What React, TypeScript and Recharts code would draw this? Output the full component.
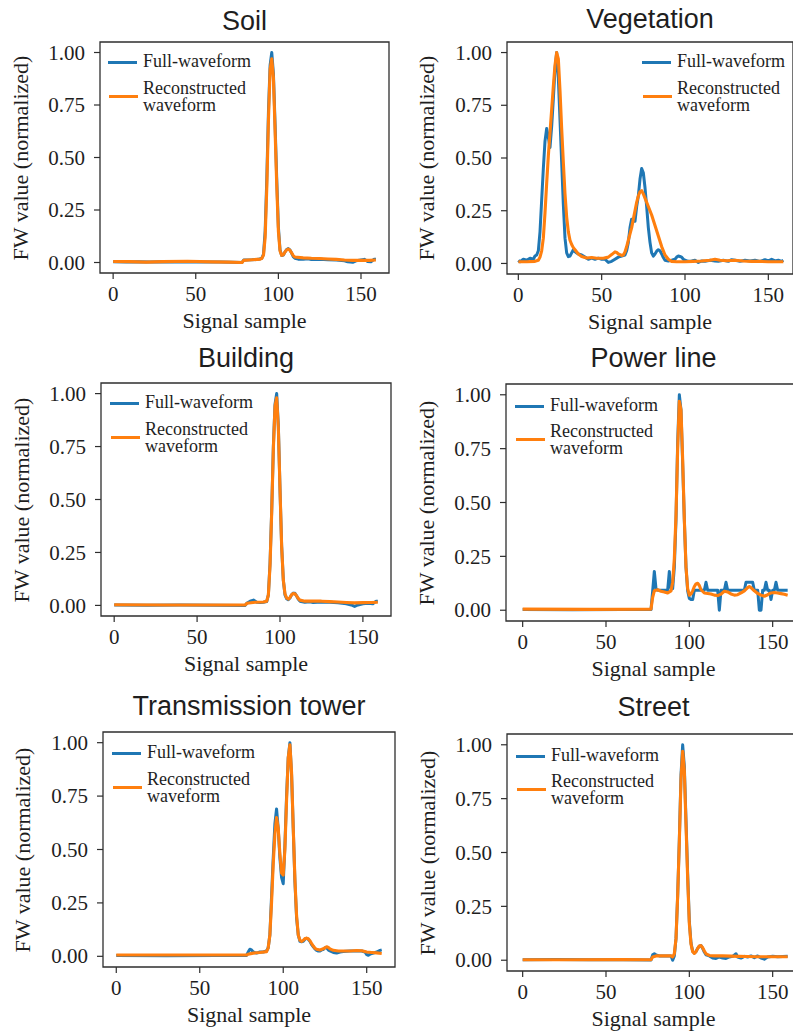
import { LineChart, Line, XAxis, YAxis, ReferenceArea } from 'recharts';

type Pt = [number, number];

// [signal sample, normalized FW value]
const soilFull: Pt[] = [
  [0, 0.003], [8, 0.002], [15, 0.004], [22, 0.002], [30, 0.003], [38, 0.002], [46, 0.004], [55, 0.002],
  [65, 0.002], [72, 0.001], [78, 0.0], [79, 0.012], [84, 0.013], [88, 0.015], [90, 0.02], [91, 0.04],
  [92, 0.15], [93, 0.4], [94, 0.72], [95, 0.94], [96, 1.0], [97, 0.9], [98, 0.66], [99, 0.4], [100, 0.17],
  [101, 0.06], [102, 0.033], [103, 0.035], [104, 0.05], [105, 0.062], [106, 0.066], [107, 0.06], [108, 0.045],
  [109, 0.028], [110, 0.02], [112, 0.016], [115, 0.015], [118, 0.018], [120, 0.014], [125, 0.016], [130, 0.013],
  [135, 0.012], [140, 0.008], [142, 0.003], [145, 0.001], [147, 0.008], [150, 0.012], [152, 0.015], [154, 0.005],
  [156, 0.003], [158, 0.016], [159, 0.015],
];
const soilRecon: Pt[] = [
  [0, 0.005], [10, 0.004], [20, 0.002], [30, 0.004], [45, 0.006], [60, 0.003], [70, 0.002], [78, 0.0],
  [79, 0.01], [84, 0.013], [89, 0.016], [90, 0.02], [91, 0.035], [92, 0.12], [93, 0.36], [94, 0.68], [95, 0.92],
  [96, 0.97], [97, 0.88], [98, 0.63], [99, 0.37], [100, 0.15], [101, 0.055], [102, 0.034], [103, 0.037],
  [104, 0.05], [105, 0.06], [106, 0.064], [107, 0.058], [108, 0.046], [109, 0.033], [110, 0.026], [115, 0.022],
  [120, 0.02], [125, 0.019], [130, 0.017], [135, 0.015], [140, 0.012], [145, 0.01], [150, 0.01], [155, 0.01],
  [159, 0.012],
];

const vegFull: Pt[] = [
  [0, 0.015], [1, 0.008], [3, 0.02], [5, 0.015], [7, 0.025], [9, 0.02], [10, 0.035], [11, 0.04], [12, 0.06],
  [13, 0.15], [14, 0.3], [15, 0.45], [16, 0.58], [17, 0.64], [18, 0.6], [19, 0.55], [20, 0.65], [21, 0.78],
  [22, 0.92], [23, 1.0], [24, 0.88], [25, 0.68], [26, 0.48], [27, 0.28], [28, 0.12], [29, 0.05], [30, 0.032],
  [31, 0.035], [32, 0.05], [33, 0.065], [34, 0.055], [35, 0.05], [36, 0.045], [38, 0.04], [40, 0.03], [42, 0.02],
  [44, 0.025], [46, 0.02], [48, 0.025], [50, 0.02], [52, 0.02], [54, 0.005], [56, 0.01], [58, 0.02], [60, 0.03],
  [62, 0.035], [64, 0.04], [65, 0.06], [66, 0.1], [67, 0.17], [68, 0.21], [69, 0.2], [70, 0.2], [71, 0.27],
  [72, 0.32], [73, 0.4], [74, 0.45], [75, 0.43], [76, 0.36], [77, 0.27], [78, 0.17], [79, 0.1], [80, 0.05],
  [81, 0.035], [82, 0.045], [83, 0.058], [84, 0.065], [85, 0.06], [86, 0.045], [87, 0.028], [88, 0.015],
  [90, 0.012], [92, 0.015], [94, 0.02], [95, 0.03], [96, 0.035], [97, 0.033], [98, 0.03], [99, 0.02], [100, 0.015],
  [102, 0.01], [104, 0.012], [106, 0.015], [108, 0.005], [110, 0.012], [112, 0.01], [115, 0.015], [118, 0.012],
  [120, 0.01], [123, 0.015], [126, 0.01], [128, 0.018], [130, 0.015], [133, 0.01], [136, 0.015], [139, 0.012],
  [142, 0.015], [145, 0.01], [148, 0.018], [150, 0.012], [152, 0.02], [154, 0.012], [156, 0.015], [158, 0.01],
  [159, 0.015],
];
const vegRecon: Pt[] = [
  [0, 0.008], [5, 0.008], [10, 0.01], [12, 0.015], [13, 0.03], [14, 0.06], [15, 0.12], [16, 0.24], [17, 0.38],
  [18, 0.51], [19, 0.62], [20, 0.73], [21, 0.84], [22, 0.94], [23, 1.0], [24, 0.97], [25, 0.82], [26, 0.64],
  [27, 0.48], [28, 0.33], [29, 0.22], [30, 0.15], [31, 0.11], [32, 0.09], [33, 0.075], [34, 0.065], [36, 0.045],
  [38, 0.033], [41, 0.026], [44, 0.028], [47, 0.025], [51, 0.025], [54, 0.03], [56, 0.042], [58, 0.055],
  [59, 0.052], [60, 0.045], [62, 0.038], [63, 0.04], [64, 0.055], [65, 0.08], [66, 0.11], [67, 0.14], [68, 0.17],
  [69, 0.21], [70, 0.25], [71, 0.29], [72, 0.32], [73, 0.34], [74, 0.345], [75, 0.33], [76, 0.31], [78, 0.27],
  [80, 0.23], [82, 0.18], [84, 0.13], [86, 0.08], [88, 0.04], [90, 0.02], [92, 0.01], [95, 0.008], [100, 0.008],
  [105, 0.01], [110, 0.012], [115, 0.015], [118, 0.02], [121, 0.015], [125, 0.013], [130, 0.015], [135, 0.012],
  [140, 0.01], [145, 0.01], [150, 0.008], [155, 0.008], [159, 0.008],
];

const buildingFull: Pt[] = [
  [0, 0.002], [20, 0.001], [40, 0.002], [60, 0.001], [79, 0.0], [80, 0.01], [82, 0.02], [84, 0.025], [86, 0.015],
  [88, 0.014], [90, 0.015], [92, 0.018], [93, 0.05], [94, 0.2], [95, 0.45], [96, 0.75], [97, 0.95], [98, 1.0],
  [99, 0.85], [100, 0.55], [101, 0.28], [102, 0.12], [103, 0.05], [104, 0.032], [105, 0.027], [106, 0.035],
  [107, 0.05], [108, 0.058], [109, 0.057], [110, 0.045], [111, 0.03], [112, 0.02], [115, 0.015], [118, 0.017],
  [120, 0.014], [125, 0.016], [130, 0.015], [135, 0.012], [140, 0.008], [143, 0.002], [145, -0.005],
  [147, 0.002], [150, 0.008], [153, 0.01], [156, 0.008], [158, 0.02], [159, 0.02],
];
const buildingRecon: Pt[] = [
  [0, 0.003], [30, 0.002], [60, 0.002], [79, 0.002], [80, 0.01], [85, 0.015], [90, 0.016], [92, 0.02],
  [93, 0.05], [94, 0.19], [95, 0.44], [96, 0.74], [97, 0.94], [98, 0.98], [99, 0.84], [100, 0.55], [101, 0.28],
  [102, 0.12], [103, 0.055], [104, 0.035], [105, 0.03], [106, 0.037], [107, 0.05], [108, 0.056], [109, 0.055],
  [110, 0.045], [111, 0.033], [112, 0.025], [115, 0.02], [120, 0.02], [125, 0.02], [130, 0.018], [135, 0.016],
  [140, 0.014], [145, 0.012], [150, 0.013], [155, 0.014], [159, 0.015],
];

const powerFull: Pt[] = [
  [0, 0.003], [30, 0.002], [60, 0.003], [77, 0.003], [78, 0.09], [79, 0.18], [80, 0.1], [81, 0.093], [87, 0.093],
  [88, 0.18], [89, 0.1], [90, 0.1], [91, 0.2], [92, 0.42], [93, 0.78], [94, 1.0], [95, 0.93], [96, 0.68],
  [97, 0.42], [98, 0.2], [99, 0.09], [100, 0.055], [101, 0.05], [102, 0.05], [103, 0.093], [109, 0.093],
  [110, 0.13], [111, 0.093], [117, 0.093], [118, 0.0], [119, 0.093], [121, 0.093], [122, 0.13], [123, 0.093],
  [133, 0.093], [134, 0.13], [138, 0.13], [139, 0.093], [141, 0.093], [142, 0.0], [143, 0.0], [144, 0.093],
  [145, 0.093], [146, 0.13], [147, 0.093], [148, 0.093], [149, 0.05], [150, 0.093], [151, 0.093], [152, 0.13],
  [153, 0.093], [159, 0.093],
];
const powerRecon: Pt[] = [
  [0, 0.005], [40, 0.004], [77, 0.005], [78, 0.06], [79, 0.09], [81, 0.095], [83, 0.088], [85, 0.085],
  [87, 0.08], [89, 0.09], [90, 0.13], [91, 0.24], [92, 0.44], [93, 0.75], [94, 0.97], [95, 0.93], [96, 0.7],
  [97, 0.42], [98, 0.2], [99, 0.1], [100, 0.07], [101, 0.075], [102, 0.09], [103, 0.11], [104, 0.122],
  [105, 0.125], [106, 0.115], [107, 0.095], [109, 0.08], [111, 0.078], [113, 0.075], [115, 0.07], [117, 0.068],
  [119, 0.075], [121, 0.088], [123, 0.085], [125, 0.075], [127, 0.07], [129, 0.072], [131, 0.08], [133, 0.09],
  [135, 0.105], [136, 0.11], [137, 0.105], [139, 0.09], [141, 0.078], [143, 0.07], [145, 0.065], [147, 0.072],
  [149, 0.08], [151, 0.082], [153, 0.08], [155, 0.077], [157, 0.074], [159, 0.07],
];

const towerFull: Pt[] = [
  [0, 0.004], [30, 0.003], [60, 0.004], [78, 0.004], [79, 0.02], [80, 0.033], [81, 0.03], [82, 0.02],
  [84, 0.015], [86, 0.02], [88, 0.02], [90, 0.025], [91, 0.04], [92, 0.1], [93, 0.28], [94, 0.46], [95, 0.62],
  [96, 0.69], [97, 0.6], [98, 0.46], [99, 0.37], [100, 0.34], [101, 0.52], [102, 0.75], [103, 0.93], [104, 1.0],
  [105, 0.85], [106, 0.6], [107, 0.35], [108, 0.18], [109, 0.1], [110, 0.07], [111, 0.068], [112, 0.07],
  [113, 0.08], [114, 0.085], [115, 0.08], [116, 0.07], [117, 0.055], [118, 0.045], [119, 0.035], [120, 0.028],
  [121, 0.025], [122, 0.025], [123, 0.03], [124, 0.032], [125, 0.04], [126, 0.04], [127, 0.03], [128, 0.025],
  [130, 0.018], [132, 0.015], [134, 0.02], [136, 0.022], [140, 0.025], [144, 0.025], [147, 0.025], [149, 0.02],
  [150, 0.008], [151, 0.005], [152, 0.01], [154, 0.015], [156, 0.02], [158, 0.028], [159, 0.03],
];
const towerRecon: Pt[] = [
  [0, 0.006], [30, 0.006], [60, 0.006], [78, 0.006], [79, 0.01], [82, 0.015], [86, 0.018], [90, 0.022],
  [91, 0.04], [92, 0.1], [93, 0.25], [94, 0.43], [95, 0.57], [96, 0.65], [97, 0.6], [98, 0.48], [99, 0.39],
  [100, 0.38], [101, 0.5], [102, 0.73], [103, 0.93], [104, 0.99], [105, 0.86], [106, 0.6], [107, 0.36],
  [108, 0.19], [109, 0.1], [110, 0.075], [111, 0.07], [112, 0.075], [113, 0.083], [114, 0.085], [115, 0.082],
  [116, 0.073], [117, 0.06], [118, 0.048], [119, 0.038], [120, 0.033], [122, 0.03], [124, 0.035], [125, 0.04],
  [126, 0.045], [127, 0.042], [128, 0.035], [130, 0.028], [133, 0.025], [136, 0.025], [140, 0.025], [144, 0.027],
  [147, 0.026], [150, 0.02], [153, 0.018], [156, 0.016], [159, 0.013],
];

const streetFull: Pt[] = [
  [0, 0.002], [20, 0.003], [40, 0.002], [60, 0.002], [77, 0.001], [78, 0.025], [79, 0.03], [80, 0.025],
  [82, 0.02], [86, 0.02], [89, 0.02], [90, 0.0], [91, 0.02], [92, 0.1], [93, 0.3], [94, 0.56], [95, 0.86],
  [96, 1.0], [97, 0.9], [98, 0.65], [99, 0.4], [100, 0.18], [101, 0.08], [102, 0.042], [103, 0.033], [104, 0.04],
  [105, 0.055], [106, 0.065], [107, 0.068], [108, 0.055], [109, 0.038], [110, 0.025], [112, 0.02], [114, 0.01],
  [116, 0.008], [118, 0.015], [120, 0.01], [122, 0.008], [124, 0.015], [126, 0.018], [128, 0.03], [129, 0.015],
  [131, 0.01], [133, 0.018], [135, 0.015], [137, 0.02], [139, 0.012], [141, 0.02], [143, 0.01], [145, 0.005],
  [147, 0.015], [150, 0.018], [153, 0.016], [156, 0.017], [159, 0.018],
];
const streetRecon: Pt[] = [
  [0, 0.002], [30, 0.002], [60, 0.003], [77, 0.002], [78, 0.015], [80, 0.02], [85, 0.02], [89, 0.02],
  [90, 0.015], [91, 0.03], [92, 0.1], [93, 0.3], [94, 0.55], [95, 0.84], [96, 0.97], [97, 0.88], [98, 0.63],
  [99, 0.38], [100, 0.17], [101, 0.075], [102, 0.04], [103, 0.032], [104, 0.04], [105, 0.055], [106, 0.066],
  [107, 0.068], [108, 0.058], [109, 0.043], [110, 0.03], [112, 0.022], [115, 0.02], [120, 0.02], [125, 0.019],
  [130, 0.018], [135, 0.017], [140, 0.016], [145, 0.016], [150, 0.016], [155, 0.016], [159, 0.016],
];

const xTicks = [0, 50, 100, 150];
const yTicks = [0, 0.25, 0.5, 0.75, 1.0];

const BLUE = '#1f77b4';
const ORANGE = '#ff7f0e';
const INK = '#1e1e1e';
const SPINE = '#2e2e2e';
const SERIF = "'Liberation Serif', 'DejaVu Serif', serif";
const SANS = "'Liberation Sans', 'DejaVu Sans', sans-serif";

const YW = 60;
const XH = 40;
const PAD_T = 14;
const PAD_R = 10;

type PanelSpec = {
  title: string;
  full: Pt[];
  recon: Pt[];
  left: number;
  top: number;
  width: number;
  height: number;
  xMin: number;
  xMax: number;
  titleY: number;
  yLabelX: number;
  legendX: number;
  legendY: number;
  legendGap: number;
};

const panels: PanelSpec[] = [
  { title: 'Soil', full: soilFull, recon: soilRecon, left: 100, top: 42, width: 289, height: 231, xMin: -7.95, xMax: 166.95, titleY: 31, yLabelX: 21, legendX: 8, legendY: 20, legendGap: 34 },
  { title: 'Vegetation', full: vegFull, recon: vegRecon, left: 507, top: 42, width: 286, height: 232, xMin: -6.8, xMax: 164.8, titleY: 29, yLabelX: 427, legendX: 135, legendY: 20, legendGap: 34 },
  { title: 'Building', full: buildingFull, recon: buildingRecon, left: 101, top: 383, width: 290, height: 233, xMin: -7.95, xMax: 166.95, titleY: 368, yLabelX: 22, legendX: 9, legendY: 20, legendGap: 34 },
  { title: 'Power line', full: powerFull, recon: powerRecon, left: 506, top: 384, width: 295, height: 237, xMin: -10, xMax: 167, titleY: 368, yLabelX: 427, legendX: 9, legendY: 22, legendGap: 33 },
  { title: 'Transmission tower', full: towerFull, recon: towerRecon, left: 103, top: 732, width: 292, height: 235, xMin: -7.95, xMax: 166.95, titleY: 716, yLabelX: 23, legendX: 9, legendY: 21, legendGap: 34 },
  { title: 'Street', full: streetFull, recon: streetRecon, left: 507, top: 734, width: 293, height: 237, xMin: -9.4, xMax: 166.4, titleY: 717, yLabelX: 428, legendX: 9, legendY: 22, legendGap: 33 },
];

const XTick = (props: any) => (
  <text x={props.x} y={props.y} dy="0.71em" textAnchor="middle" fontFamily={SERIF} fontSize={21} fill={INK}>
    {props.payload.value}
  </text>
);

const YTick = (props: any) => (
  <text x={props.x} y={props.y} dy="0.34em" textAnchor="end" fontFamily={SERIF} fontSize={21} fill={INK}>
    {Number(props.payload.value).toFixed(2)}
  </text>
);

function Panel({ p }: { p: PanelSpec }) {
  const full = p.full.map(([s, v]) => ({ s, full: v }));
  const recon = p.recon.map(([s, v]) => ({ s, recon: v }));
  const cx = p.left + p.width / 2;
  const cy = p.top + p.height / 2;
  const lx = p.left + p.legendX;
  const ly = p.top + p.legendY;
  const legendText = { position: 'absolute' as const, fontFamily: SERIF, fontSize: 18, lineHeight: '17px', height: 17, color: INK, whiteSpace: 'nowrap' as const };

  return (
    <>
      <div style={{ position: 'absolute', left: cx - 200, width: 400, top: p.titleY - 23, fontFamily: SANS, fontSize: 27, lineHeight: '27px', textAlign: 'center', color: INK, whiteSpace: 'nowrap' }}>
        {p.title}
      </div>

      <div style={{ position: 'absolute', left: p.left - YW, top: p.top - PAD_T }}>
        <LineChart width={YW + p.width + PAD_R} height={PAD_T + p.height + XH} margin={{ top: PAD_T, right: PAD_R, bottom: 0, left: 0 }}>
          <XAxis
            type="number"
            dataKey="s"
            domain={[p.xMin, p.xMax]}
            allowDataOverflow
            ticks={xTicks}
            interval={0}
            height={XH}
            axisLine={false}
            tickLine={{ stroke: SPINE, strokeWidth: 1.2 }}
            tickSize={6}
            tickMargin={7}
            tick={<XTick />}
          />
          <YAxis
            type="number"
            domain={[-0.05, 1.05]}
            allowDataOverflow
            ticks={yTicks}
            interval={0}
            width={YW}
            axisLine={false}
            tickLine={{ stroke: SPINE, strokeWidth: 1.2 }}
            tickSize={6}
            tickMargin={9}
            tick={<YTick />}
          />
          <ReferenceArea x1={p.xMin} x2={p.xMax} y1={-0.05} y2={1.05} fill="none" fillOpacity={0} stroke={SPINE} strokeWidth={1.3} ifOverflow="visible" />
          <Line data={full} dataKey="full" type="linear" stroke={BLUE} strokeWidth={3} strokeLinejoin="round" dot={false} activeDot={false} isAnimationActive={false} />
          <Line data={recon} dataKey="recon" type="linear" stroke={ORANGE} strokeWidth={3.1} strokeLinejoin="round" dot={false} activeDot={false} isAnimationActive={false} />
        </LineChart>
      </div>

      {/* y label, rotated */}
      <div style={{ position: 'absolute', left: p.yLabelX - 150, top: cy - 11, width: 300, height: 22, lineHeight: '22px', textAlign: 'center', fontFamily: SERIF, fontSize: 22, color: INK, transform: 'rotate(-90deg)', whiteSpace: 'nowrap' }}>
        FW value (normalized)
      </div>

      {/* x label */}
      <div style={{ position: 'absolute', left: cx - 150, width: 300, top: p.top + p.height + 55 - 18.4, lineHeight: '22px', textAlign: 'center', fontFamily: SERIF, fontSize: 22, color: INK, whiteSpace: 'nowrap' }}>
        Signal sample
      </div>

      {/* legend */}
      <div style={{ position: 'absolute', left: lx, top: ly - 1.5, width: 29, height: 3, background: BLUE }} />
      <div style={{ ...legendText, left: lx + 35, top: ly + 6 - 14.6 }}>Full-waveform</div>
      <div style={{ position: 'absolute', left: lx + 1, top: ly + p.legendGap - 1.5, width: 29, height: 3, background: ORANGE }} />
      <div style={{ ...legendText, left: lx + 35, top: ly + p.legendGap - 1 - 14.6 }}>Reconstructed</div>
      <div style={{ ...legendText, left: lx + 35, top: ly + p.legendGap + 16 - 14.6 }}>waveform</div>
    </>
  );
}

export default function App() {
  return (
    <div style={{ position: 'absolute', left: 0, top: 0, width: 793, height: 1032, overflow: 'hidden', background: '#fff', fontFamily: SERIF }}>
      {panels.map((p) => (
        <Panel key={p.title} p={p} />
      ))}
    </div>
  );
}
